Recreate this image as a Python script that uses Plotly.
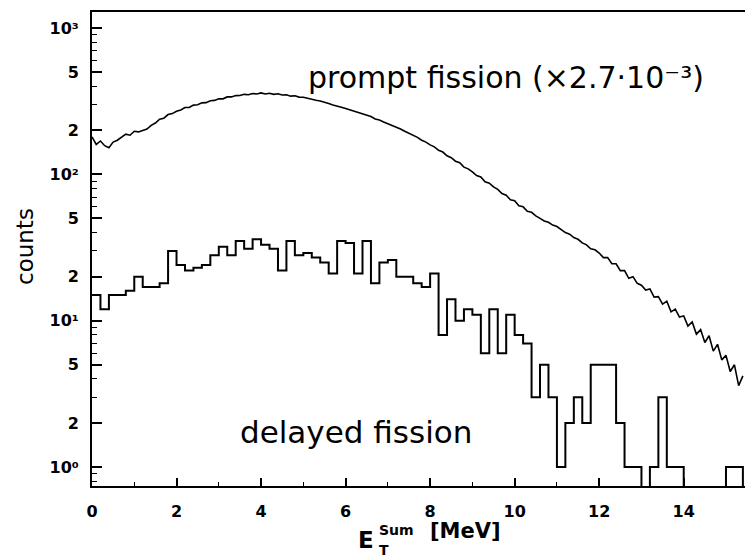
import numpy as np
import plotly.graph_objects as go

# ---------------- data ----------------
bin_width = 0.2  # MeV, delayed-fission histogram bins starting at 0
delayed_counts = [15, 12, 15, 15, 16, 20, 17, 17, 18, 30, 24, 22, 23, 24, 28, 32, 28, 35, 31, 36,
                  33, 31, 22, 35, 28, 29, 27, 25, 21, 35, 34, 21, 35, 18, 25, 26, 20, 20, 18, 17,
                  21, 8, 14, 10, 12, 11, 6, 12, 6, 11, 8, 7, 3, 5, 3, 1, 2, 3, 2, 5,
                  5, 5, 2, 1, 1, 0, 1, 3, 1, 1, 0, 0, 0, 0, 0, 1, 1]

prompt_step = 0.1  # MeV
prompt_counts_scaled = [
    180, 160, 169, 157, 152, 166, 171, 180, 188, 185,
    197, 195, 199, 204, 216, 224, 238, 242, 256, 260,
    270, 275, 286, 286, 297, 299, 308, 309, 318, 320,
    328, 328, 338, 338, 345, 346, 352, 350, 357, 354,
    360, 354, 358, 352, 355, 348, 350, 342, 344, 337,
    336, 330, 328, 321, 317, 309, 305, 298, 294, 287,
    282, 276, 271, 263, 259, 251, 248, 239, 235, 228,
    222, 217, 209, 204, 197, 191, 184, 179, 171, 166,
    159, 154, 146, 142, 134, 130, 123, 120, 112, 109,
    104, 98, 96, 89, 87, 82, 79, 74, 72, 67,
    66, 61, 60, 56, 55, 52, 50, 48, 47, 45,
    44, 42, 40, 39, 37, 36, 34, 33, 31, 30.5,
    29, 27, 27, 24.5, 24.5, 22, 22, 19.5, 20, 18,
    17.5, 16.2, 16.5, 14.5, 14.6, 13, 13.6, 11.5, 12, 10.6,
    10.8, 9.2, 9.8, 8.1, 8.7, 7.1, 7.9, 6.2, 6.9, 5.4,
    5.8, 4.5, 5.0, 3.6, 4.2]

x_major_ticks = [0, 2, 4, 6, 8, 10, 12, 14]
x_minor_ticks = [1, 3, 5, 7, 9, 11, 13, 15]
y_label_ticks = [1, 2, 5, 10, 20, 50, 100, 200, 500, 1000]
y_label_text = ["10⁰", "2", "5", "10¹", "2", "5", "10²", "2", "5", "10³"]
y_minor_ticks = [0.8, 0.9, 3, 4, 6, 7, 8, 9, 30, 40, 60, 70, 80, 90,
                 300, 400, 600, 700, 800, 900]

# ---------------- geometry ----------------
W, H = 745, 557
ML, MR, MT, MB = 92, 0, 12, 71
PW, PH = W - ML - MR, H - MT - MB
XMAX = 15.45
YLOG = [np.log10(0.743), 3.109]
FLOOR = 0.5  # empty bins drawn below the axis floor


def px(x):
    return (x - ML) / PW


def py(y):
    return (H - MB - y) / PH


# histogram as steps
edges = [round(i * bin_width, 4) for i in range(len(delayed_counts) + 1)]
hist_y = [c if c > 0 else FLOOR for c in delayed_counts]
hist_x = edges + [edges[-1]]
hist_y = hist_y + [hist_y[-1], FLOOR]

prompt_x = [round(i * prompt_step, 4) for i in range(len(prompt_counts_scaled))]

fig = go.Figure()
fig.add_trace(go.Scatter(x=prompt_x, y=prompt_counts_scaled, mode="lines",
                         line=dict(color="black", width=1.6),
                         showlegend=False, hoverinfo="skip"))
fig.add_trace(go.Scatter(x=hist_x, y=hist_y, mode="lines", line_shape="hv",
                         line=dict(color="black", width=2),
                         showlegend=False, hoverinfo="skip"))

tick_font = dict(family="DejaVu Sans", size=16, color="black", weight="bold")

fig.update_layout(
    width=W, height=H,
    margin=dict(l=ML, r=MR, t=MT, b=MB, pad=0),
    paper_bgcolor="white", plot_bgcolor="white",
    xaxis=dict(range=[0, XMAX], tickmode="array", tickvals=x_major_ticks,
               ticks="inside", ticklen=8, tickwidth=1.6, tickcolor="black",
               showline=True, linewidth=2, linecolor="black", mirror=True,
               showgrid=False, zeroline=False, tickfont=tick_font,
               ticklabelstandoff=10,
               minor=dict(tickmode="array", tickvals=x_minor_ticks, ticks="inside",
                          ticklen=4, tickwidth=1.4, tickcolor="black",
                          showgrid=False)),
    yaxis=dict(type="log", range=YLOG, tickmode="array", tickvals=y_label_ticks,
               ticktext=y_label_text, ticks="inside", ticklen=10, tickwidth=1.6,
               tickcolor="black", showline=True, linewidth=2, linecolor="black",
               showgrid=False, zeroline=False, tickfont=tick_font,
               ticklabelstandoff=8,
               minor=dict(tickmode="array", tickvals=y_minor_ticks, ticks="inside",
                          ticklen=5, tickwidth=1.4, tickcolor="black",
                          showgrid=False)),
)

ann_font = dict(family="DejaVu Sans", color="black")
annotations = [
    dict(text="prompt fission (×2.7·10⁻³)", x=px(306), y=py(78),
         xanchor="left", yanchor="middle", font=dict(size=30, **ann_font)),
    dict(text="delayed fission", x=px(238), y=py(432),
         xanchor="left", yanchor="middle", font=dict(size=31, **ann_font)),
    dict(text="counts", x=px(25), y=py(247), textangle=-90,
         xanchor="center", yanchor="middle", font=dict(size=23, **ann_font)),
    dict(text="<b>E</b>", x=px(366), y=py(540), xanchor="center", yanchor="middle",
         font=dict(size=23, **ann_font)),
    dict(text="<b>Sum</b>", x=px(377), y=py(530), xanchor="left", yanchor="middle",
         font=dict(size=14, **ann_font)),
    dict(text="<b>T</b>", x=px(377), y=py(550), xanchor="left", yanchor="middle",
         font=dict(size=14, **ann_font)),
    dict(text="<b>[MeV]</b>", x=px(428), y=py(531), xanchor="left", yanchor="middle",
         font=dict(size=21, **ann_font)),
]
for a in annotations:
    a.update(xref="paper", yref="paper", showarrow=False)
fig.update_layout(annotations=annotations)

fig.write_html("out.html")
